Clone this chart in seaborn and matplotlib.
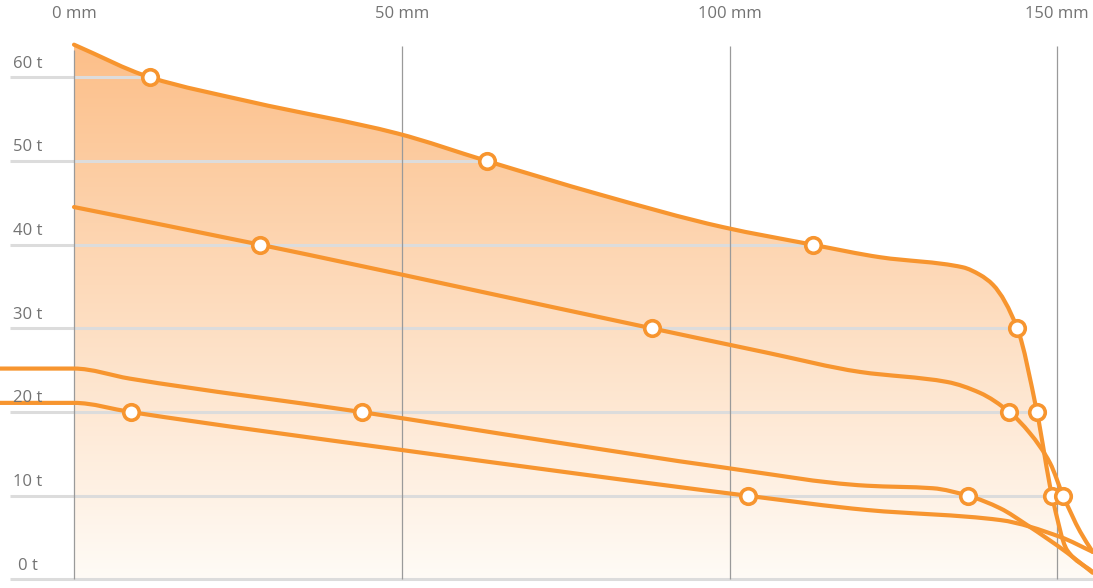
import numpy as np
import pandas as pd
import matplotlib
matplotlib.use("Agg")
import matplotlib.pyplot as plt
import matplotlib.transforms as mtransforms
from matplotlib.colors import LinearSegmentedColormap
from matplotlib.path import Path
from matplotlib.patches import PathPatch
import seaborn as sns

sns.set_theme(style="white")
plt.rcParams["font.family"] = ["Open Sans", "DejaVu Sans"]

# ---- data (mm, tonnes) ----
a_mm = [0, 11.6, 26.8, 49.3, 63.0, 80.2, 99.0, 112.7, 123.0, 135.6, 138.2, 140.2,
        143.9, 146.9, 149.2, 151.5, 155.4]
a_t = [63.9, 60.0, 57.1, 53.3, 50.0, 46.0, 42.1, 40.0, 38.5, 37.3, 36.4, 35.2,
       30.0, 20.0, 10.0, 3.5, 0.9]

b_mm = [0, 28.4, 88.2, 105.7, 119.9, 133.2, 138.2, 142.7, 145.8, 148.9, 150.9, 153.5, 155.4]
b_t = [44.5, 40.0, 30.0, 27.1, 24.8, 23.6, 22.3, 20.0, 17.5, 13.9, 10.0, 5.7, 3.3]

c_mm = [-11.3, 0, 8.5, 43.9, 72.6, 98.9, 121.0, 131.0, 136.4, 141.3, 145.4, 151.5, 155.4]
c_t = [25.2, 25.2, 24.0, 20.0, 16.5, 13.4, 11.2, 10.9, 10.0, 8.5, 6.5, 3.2, 0.8]

d_mm = [-11.3, 0, 8.7, 49.7, 102.8, 121.0, 141.3, 150.4, 155.4]
d_t = [21.1, 21.1, 20.0, 15.5, 10.0, 8.3, 7.1, 5.1, 3.3]

# points where the curves cross the tonne grid
mark_mm = [11.6, 63.0, 112.7, 143.9, 146.9, 149.2,
           28.4, 88.2, 142.7, 150.9,
           43.9, 136.4,
           8.7, 102.8]
mark_t = [60, 50, 40, 30, 20, 10,
          40, 30, 20, 10,
          20, 10,
          20, 10]

x_ticks = [0, 50, 100, 150]
x_labels = ["0 mm", "50 mm", "100 mm", "150 mm"]
y_ticks = [0, 10, 20, 30, 40, 50, 60]
y_labels = ["0 t", "10 t", "20 t", "30 t", "40 t", "50 t", "60 t"]

orange = "#F7952F"
label_col = "#737373"

marks = pd.DataFrame({"mm": mark_mm, "t": mark_t})


def smooth_path(xs, ys):
    # monotone cubic bezier through the points (same look as a "monotoneX" curve)
    x = np.asarray(xs, float)
    y = np.asarray(ys, float)
    h = np.diff(x)
    s = np.diff(y) / h
    m = np.zeros_like(x)
    m[0], m[-1] = s[0], s[-1]
    for i in range(1, len(x) - 1):
        if s[i - 1] * s[i] <= 0:
            m[i] = 0
        else:
            w1 = 2 * h[i] + h[i - 1]
            w2 = h[i] + 2 * h[i - 1]
            m[i] = (w1 + w2) / (w1 / s[i - 1] + w2 / s[i])
    verts = [(x[0], y[0])]
    codes = [Path.MOVETO]
    for i in range(len(x) - 1):
        d = h[i] / 3
        verts += [(x[i] + d, y[i] + m[i] * d), (x[i + 1] - d, y[i + 1] - m[i + 1] * d),
                  (x[i + 1], y[i + 1])]
        codes += [Path.CURVE4] * 3
    return Path(verts, codes)


fig = plt.figure(figsize=(10.93, 5.88), dpi=100)
ax = fig.add_axes([0, 0, 1, 1])

top_path = smooth_path(a_mm, a_t)

# area under the top curve, filled with a vertical gradient
area = Path(np.vstack([top_path.vertices, [[a_mm[-1], 0], [a_mm[0], 0], [a_mm[0], a_t[0]]]]),
            list(top_path.codes) + [Path.LINETO, Path.LINETO, Path.CLOSEPOLY])
cmap = LinearSegmentedColormap.from_list("fade", ["#FFFBF6", "#FCBF89"])
grad = np.linspace(0, 1, 256).reshape(-1, 1)
im = ax.imshow(grad, cmap=cmap, origin="lower", aspect="auto",
               extent=[0, a_mm[-1], 0, a_t[0]], zorder=1)
im.set_clip_path(area, transform=ax.transData)

# horizontal grid, hidden above the top curve
ax.hlines(y_ticks, -9.76, 160, color="#DCDCDC", lw=2.2, zorder=2)
mask = Path(np.vstack([top_path.vertices, [[160, a_t[-1]], [160, 80], [a_mm[0], 80], [a_mm[0], a_t[0]]]]),
            list(top_path.codes) + [Path.LINETO, Path.LINETO, Path.LINETO, Path.CLOSEPOLY])
ax.add_patch(PathPatch(mask, facecolor="white", edgecolor="none", zorder=3))

# vertical grid
ax.vlines(x_ticks, 0, [63.3, 63.8, 63.8, 63.8], color="#9A9A9A", lw=0.9, zorder=4)

for xs, ys in [(a_mm, a_t), (b_mm, b_t), (c_mm, c_t), (d_mm, d_t)]:
    ax.add_patch(PathPatch(smooth_path(xs, ys), facecolor="none", edgecolor=orange,
                           lw=3.0, joinstyle="round", capstyle="round", zorder=5))

sns.scatterplot(data=marks, x="mm", y="t", s=125, marker="o", color="white",
                edgecolor=orange, linewidth=2.6, legend=False, ax=ax, zorder=6)

for v, lab in zip(y_ticks, y_labels):
    ax.text(-7.0, v + 1.65, lab, ha="center", va="center", fontsize=12,
            color=label_col, zorder=7)

trans = mtransforms.blended_transform_factory(ax.transData, ax.transAxes)
for v, lab in zip(x_ticks, x_labels):
    ax.text(v, 1 - 14 / 588, lab, ha="center", va="center", fontsize=12,
            color=label_col, transform=trans, zorder=7)

ax.set_xlim(-11.29, 155.45)
ax.set_ylim(-1.02, 69.24)
ax.axis("off")

fig.savefig("out.png", dpi=100)
